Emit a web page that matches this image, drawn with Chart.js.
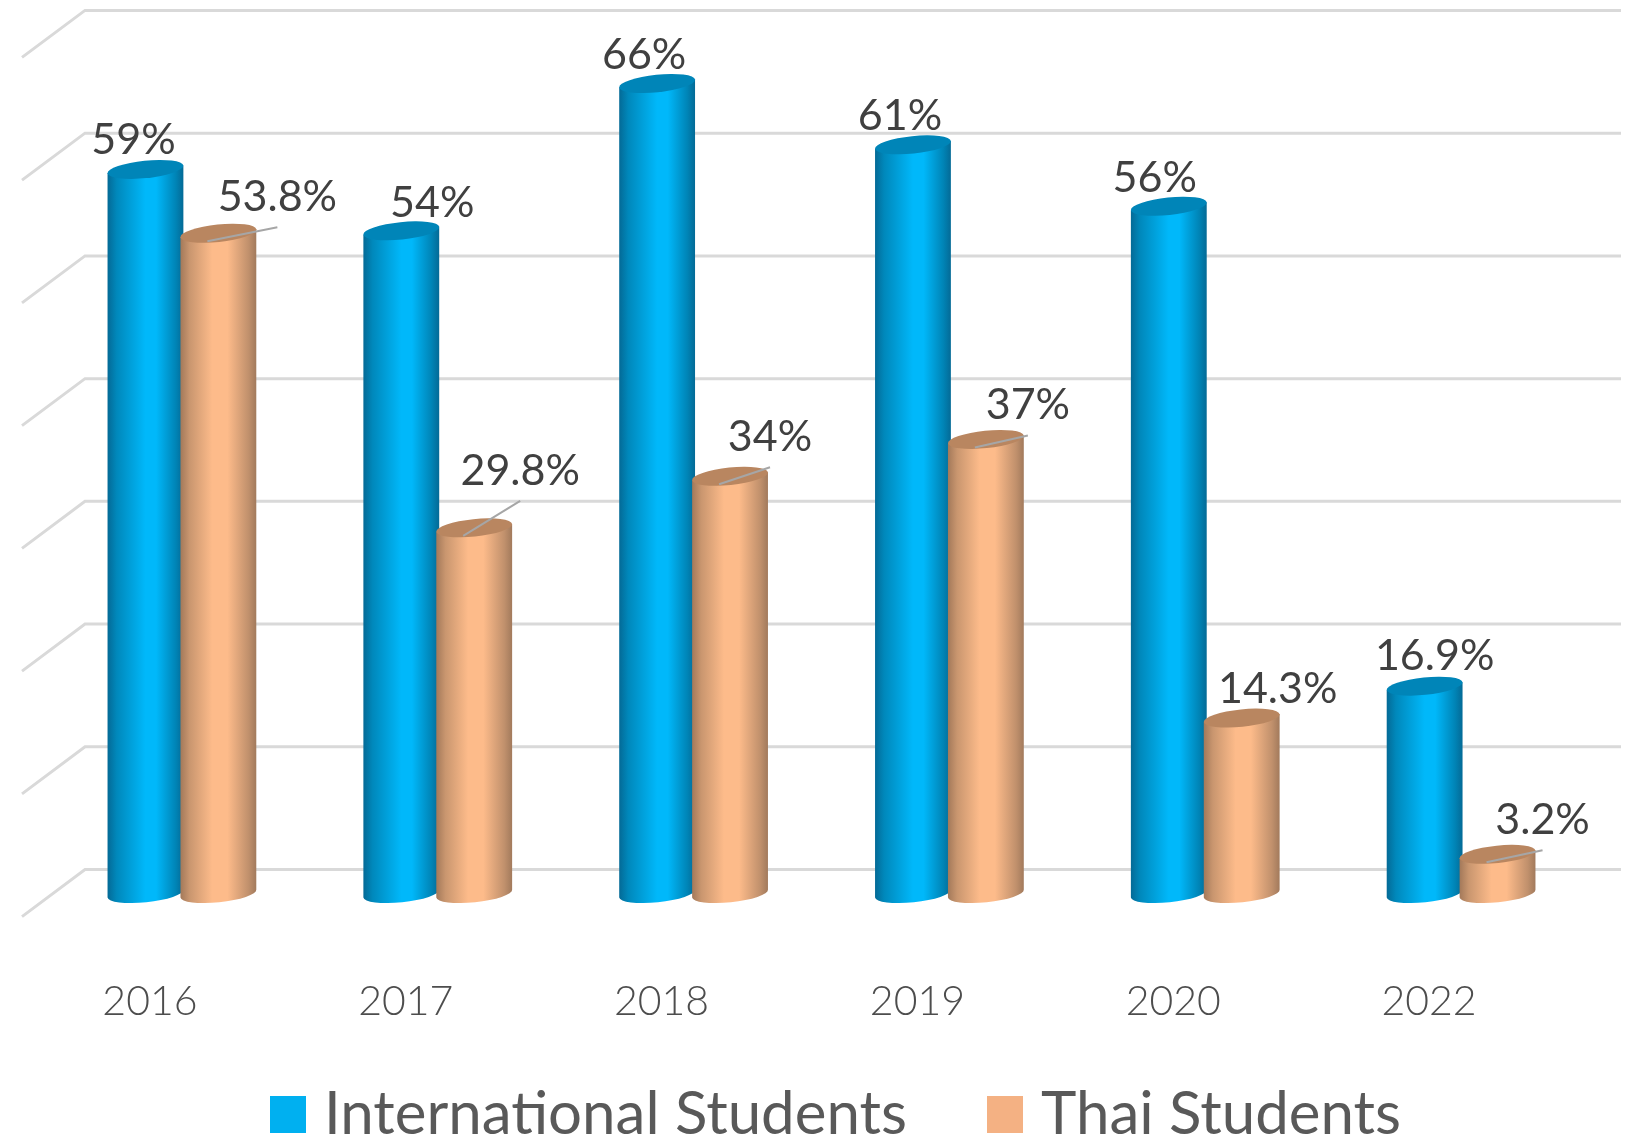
<!DOCTYPE html>
<html><head><meta charset="utf-8">
<style>html,body{margin:0;padding:0;background:#fff}#w{position:absolute;left:0;top:0;width:1635px;height:1138px}</style>
<script src="https://cdn.jsdelivr.net/npm/chart.js@4"></script>
</head><body><div id="w"><canvas id="c"></canvas></div>
<script>
const categories = ['2016','2017','2018','2019','2020','2022'];
const internationalStudents = [59,54,66,61,56,16.9];
const thaiStudents = [53.8,29.8,34,37,14.3,3.2];
const internationalLabels = ['59%','54%','66%','61%','56%','16.9%'];
const thaiLabels = ['53.8%','29.8%','34%','37%','14.3%','3.2%'];
const seriesColors = ['#00b0f0','#f4b183'];

// label centre offsets from bar centre / value pixel
const labelOffsets = [
  [[-12,-29],[31,-28],[-13,-28],[-13,-29],[-14,-28],[10,-30]],
  [[59,-36],[46,-57],[40,-39],[42,-34],[36,-29],[45,-34]]
];
const leaders = [
  [false,false,false,false,false,false],
  [true,true,true,true,false,true]
];
const cylinderStyles = [
  {stops:[[0,'#046a96'],[0.12,'#0088bb'],[0.5,'#00b8fa'],[0.64,'#00b8fa'],[0.9,'#0084b6'],[1,'#046a96']],top:'#0085b8'},
  {stops:[[0,'#a3795a'],[0.12,'#c9966f'],[0.42,'#fdbb8a'],[0.62,'#fdbb8a'],[0.9,'#c0906c'],[1,'#a27a5c']],top:'#b98660'}
];

const TILT = -5.9*Math.PI/180, RY = 8.7;

function legendSwatch(color){
  const c = document.createElement('canvas');
  c.width = 36; c.height = 37;
  const x = c.getContext('2d');
  x.fillStyle = color; x.fillRect(0,0,36,37);
  return c;
}

function drawCylinder(ctx, el, st){
  const w = el.width, rx = w/2/Math.cos(TILT), cx = el.x, yt = el.y, yb = el.base;
  const dx = rx*Math.cos(TILT), dy = rx*Math.sin(TILT);
  const g = ctx.createLinearGradient(cx-dx,0,cx+dx,0);
  st.stops.forEach(s=>g.addColorStop(s[0],s[1]));
  ctx.beginPath();
  ctx.moveTo(cx-dx,yt-dy);
  ctx.lineTo(cx-dx,yb-dy);
  ctx.ellipse(cx,yb,rx,RY,TILT,Math.PI,0,true);
  ctx.lineTo(cx+dx,yt+dy);
  ctx.closePath();
  ctx.fillStyle = g; ctx.fill();
  ctx.beginPath();
  ctx.ellipse(cx,yt,rx,RY,TILT,0,Math.PI*2);
  ctx.fillStyle = st.top; ctx.fill();
}

const cylinderPlugin = {
  id:'cylinders',
  beforeDatasetsDraw(chart){
    const ctx = chart.ctx, y = chart.scales.y;
    ctx.save();
    ctx.strokeStyle = '#d9d9d9'; ctx.lineWidth = 3;
    y.ticks.forEach(t=>{
      const p = y.getPixelForValue(t.value);
      ctx.beginPath();
      ctx.moveTo(22,p+23); ctx.lineTo(85,p-24); ctx.lineTo(1621,p-24);
      ctx.stroke();
    });
    [0,1].forEach(i=>{
      chart.getDatasetMeta(i).data.forEach(el=>drawCylinder(ctx,el,cylinderStyles[i]));
    });
    ctx.restore();
    return false;
  },
  afterDraw(chart){
    const ctx = chart.ctx;
    ctx.save();
    [internationalLabels,thaiLabels].forEach((labs,i)=>{
      chart.getDatasetMeta(i).data.forEach((el,j)=>{
        const [ox,oy] = labelOffsets[i][j];
        if(leaders[i][j]){
          ctx.strokeStyle='#a6a6a6'; ctx.lineWidth=2;
          ctx.beginPath();
          ctx.moveTo(el.x-11,el.y+8); ctx.lineTo(el.x+ox,el.y+oy+30); ctx.stroke();
        }
        ctx.font='43px Lato'; ctx.fillStyle='#404040';
        ctx.textAlign='center'; ctx.textBaseline='middle';
        ctx.fillText(labs[j],el.x+ox,el.y+oy);
      });
    });
    ctx.restore();
  }
};

new Chart(document.getElementById('c'),{
  type:'bar',
  data:{labels:categories,datasets:[
    {label:'International Students',data:internationalStudents,backgroundColor:seriesColors[0]},
    {label:'Thai Students',data:thaiStudents,backgroundColor:seriesColors[1]}
  ]},
  plugins:[cylinderPlugin],
  options:{
    responsive:true,maintainAspectRatio:false,animation:false,
    layout:{padding:{left:54,right:6,top:34.4,bottom:-16.6}},
    datasets:{bar:{categoryPercentage:0.57,barPercentage:1.04}},
    scales:{
      x:{grid:{display:false},border:{display:false},
        afterFit(s){s.height=191;},
        ticks:{labelOffset:-32,padding:76,maxRotation:0,color:'#4d4d4d',font:{family:'Lato',size:41,weight:'300'}}},
      y:{position:'right',min:0,max:70,grid:{display:false},border:{display:false},
        afterFit(s){s.width=40;},
        ticks:{display:false,stepSize:10}}
    },
    plugins:{
      tooltip:{enabled:false},
      legend:{position:'bottom',labels:{usePointStyle:true,pointStyleWidth:12,boxHeight:36,padding:0,color:'#595959',font:{family:'Lato',size:60},
        generateLabels(chart){
          const items = Chart.defaults.plugins.legend.labels.generateLabels(chart);
          items.forEach((it,i)=>{it.pointStyle = legendSwatch(seriesColors[i]);});
          items[0].text += '\u00A0'.repeat(6);
          return items;
        }}}
    }
  }
});
</script></body></html>
